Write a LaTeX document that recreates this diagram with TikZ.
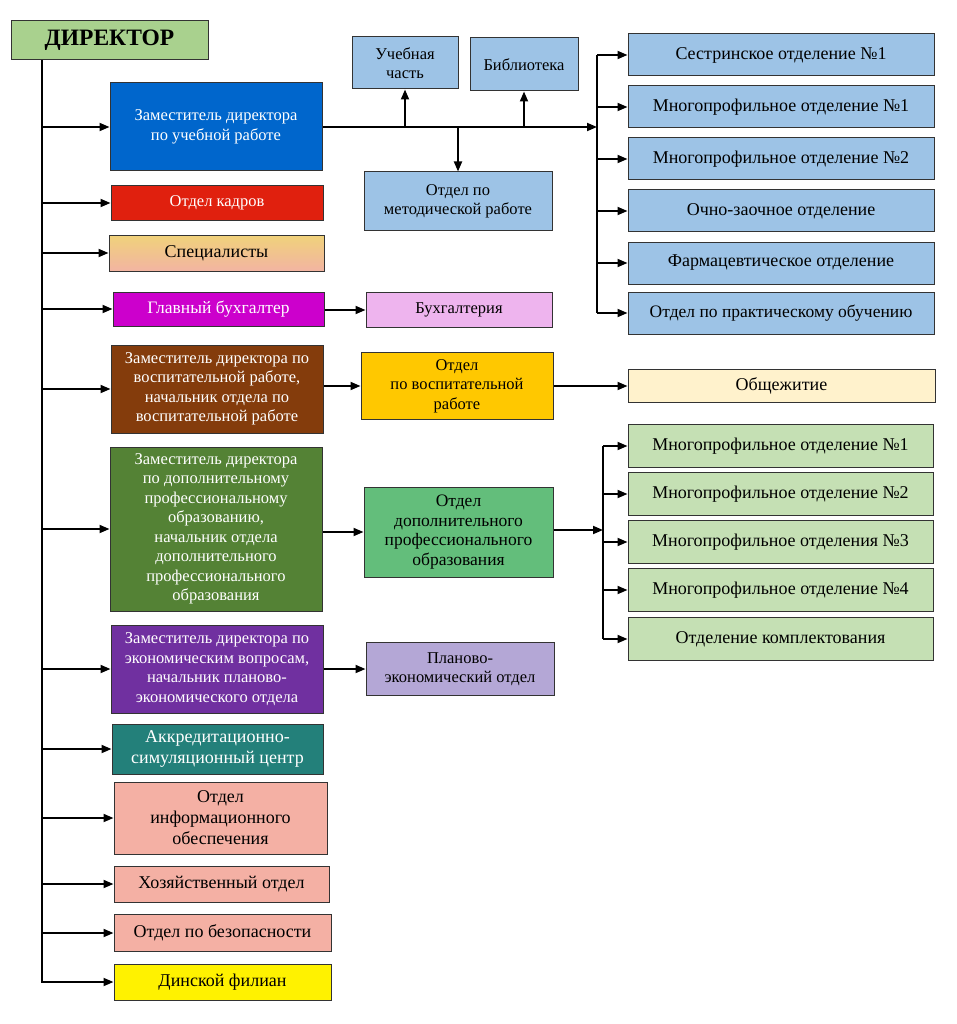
\documentclass[tikz,border=0pt]{standalone}
\usepackage{fontspec}
\setmainfont{Liberation Serif}
\usetikzlibrary{arrows.meta}

\definecolor{dirgreen}{HTML}{A9D18E}
\definecolor{zublue}{HTML}{0066CC}
\definecolor{kadred}{HTML}{E0200E}
\definecolor{spectop}{HTML}{F0D27A}
\definecolor{specbot}{HTML}{F2B4A2}
\definecolor{buhmag}{HTML}{CC00CC}
\definecolor{buhpink}{HTML}{EEB4EE}
\definecolor{vrbrown}{HTML}{843C0C}
\definecolor{vrgold}{HTML}{FFC800}
\definecolor{cream}{HTML}{FFF2CC}
\definecolor{dpgreen}{HTML}{548235}
\definecolor{odgreen}{HTML}{63BE7B}
\definecolor{ltgreen}{HTML}{C5E0B4}
\definecolor{ekpurple}{HTML}{7030A0}
\definecolor{lavend}{HTML}{B4A7D6}
\definecolor{akteal}{HTML}{23807A}
\definecolor{salmon}{HTML}{F4B0A4}
\definecolor{ltblue}{HTML}{9DC3E6}

\tikzset{
  box/.style={draw=black!80, line width=1pt, inner sep=1pt, align=center,
    font=\fontsize{16.5}{19.5}\selectfont},
  wbox/.style={box, text=white},
  big/.style={font=\fontsize{18}{21}\selectfont},
  mid/.style={font=\fontsize{17.5}{19.5}\selectfont},
  arr/.style={line width=1.8pt, -{Triangle[length=10pt,width=8pt]}},
  ln/.style={line width=1.8pt}
}

\begin{document}
\begin{tikzpicture}[x=1pt,y=-1pt]
  \useasboundingbox (0,0) rectangle (957,1024);

  \node [box,fill=dirgreen,minimum width=197pt,minimum height=39pt,
    font=\fontsize{23.5}{26}\selectfont\bfseries] (dir) at (109.5,40.5) {ДИРЕКТОР};
  \coordinate (trunk) at (42,60);

  % left column
  \node [wbox,fill=zublue,minimum width=212pt,minimum height=88pt] (zud) at (216,127)
    {Заместитель директора\\по учебной работе};
  \node [wbox,fill=kadred,minimum width=212pt,minimum height=35pt] (kadr) at (217,203)
    {Отдел кадров};
  \node [box,big,top color=spectop,bottom color=specbot,minimum width=215pt,minimum height=36pt] (spec) at (216.5,253)
    {Специалисты};
  \node [wbox,mid,fill=buhmag,minimum width=211pt,minimum height=34pt] (buh) at (218.5,309)
    {Главный бухгалтер};
  \node [wbox,fill=vrbrown,minimum width=212pt,minimum height=88pt] (zvr) at (217,389)
    {Заместитель директора по\\воспитательной работе,\\начальник отдела по\\воспитательной работе};
  \node [wbox,fill=dpgreen,minimum width=212pt,minimum height=164pt] (zdp) at (216,529)
    {Заместитель директора\\по дополнительному\\профессиональному\\образованию,\\начальник отдела\\дополнительного\\профессионального\\образования};
  \node [wbox,fill=ekpurple,minimum width=212pt,minimum height=88pt] (zek) at (217,669)
    {Заместитель директора по\\экономическим вопросам,\\начальник планово-\\экономического отдела};
  \node [wbox,big,fill=akteal,minimum width=211pt,minimum height=50pt] (akk) at (217.5,749)
    {Аккредитационно-\\симуляционный центр};
  \node [box,big,fill=salmon,minimum width=213pt,minimum height=72pt] (info) at (220.5,818)
    {Отдел\\информационного\\обеспечения};
  \node [box,big,fill=salmon,minimum width=215pt,minimum height=36pt] (hoz) at (221.5,884)
    {Хозяйственный отдел};
  \node [box,big,fill=salmon,minimum width=217pt,minimum height=37pt] (bez) at (222.5,933)
    {Отдел по безопасности};
  \node [box,big,fill=yellow,minimum width=217pt,minimum height=36pt] (din) at (222.5,982)
    {Динской филиан};

  % middle column
  \node [box,fill=ltblue,minimum width=106pt,minimum height=52pt] (uch) at (405,63)
    {Учебная\\часть};
  \node [box,fill=ltblue,minimum width=108pt,minimum height=53pt] (bib) at (524,64.5)
    {Библиотека};
  \node [box,fill=ltblue,minimum width=188pt,minimum height=59pt] (met) at (458,201.5)
    {Отдел по\\методической работе};
  \node [box,fill=buhpink,minimum width=186pt,minimum height=35pt] (buhg) at (459,310)
    {Бухгалтерия};
  \node [box,fill=vrgold,minimum width=192pt,minimum height=67pt] (ovr) at (457,386)
    {Отдел\\по воспитательной\\работе};
  \node [box,mid,fill=odgreen,minimum width=189pt,minimum height=90pt] (odp) at (458.5,532)
    {Отдел\\дополнительного\\профессионального\\образования};
  \node [box,fill=lavend,minimum width=188pt,minimum height=53pt] (pek) at (460,669)
    {Планово-\\экономический отдел};

  % right column
  \node [box,big,fill=ltblue,minimum width=306pt,minimum height=42pt] (s1) at (781,55)
    {Сестринское отделение №1};
  \node [box,big,fill=ltblue,minimum width=306pt,minimum height=42pt] (s2) at (781,107)
    {Многопрофильное отделение №1};
  \node [box,big,fill=ltblue,minimum width=306pt,minimum height=42pt] (s3) at (781,159)
    {Многопрофильное отделение №2};
  \node [box,big,fill=ltblue,minimum width=306pt,minimum height=42pt] (s4) at (781,211)
    {Очно-заочное отделение};
  \node [box,big,fill=ltblue,minimum width=306pt,minimum height=42pt] (s5) at (781,263)
    {Фармацевтическое отделение};
  \node [box,mid,fill=ltblue,minimum width=306pt,minimum height=42pt] (s6) at (781,313)
    {Отдел по практическому обучению};
  \node [box,big,fill=cream,minimum width=307pt,minimum height=33pt] (obsh) at (781.5,386)
    {Общежитие};
  \node [box,big,fill=ltgreen,minimum width=305pt,minimum height=43pt] (g1) at (780.5,446)
    {Многопрофильное отделение №1};
  \node [box,big,fill=ltgreen,minimum width=305pt,minimum height=43pt] (g2) at (780.5,494)
    {Многопрофильное отделение №2};
  \node [box,big,fill=ltgreen,minimum width=305pt,minimum height=43pt] (g3) at (780.5,542)
    {Многопрофильное отделения №3};
  \node [box,big,fill=ltgreen,minimum width=305pt,minimum height=43pt] (g4) at (780.5,590)
    {Многопрофильное отделение №4};
  \node [box,big,fill=ltgreen,minimum width=305pt,minimum height=43pt] (g5) at (780.5,639)
    {Отделение комплектования};

  % trunk
  \draw [arr] (trunk) |- (din.west);
  \foreach \b in {zud,kadr,spec,buh,zvr,zdp,zek,akk,info,hoz,bez}
    \draw [arr] (trunk |- \b.west) -- (\b.west);

  % study branch
  \coordinate (busA) at (597,127);
  \draw [arr] (zud.east) -- (busA);
  \draw [arr] (zud.east -| uch.south) -- (uch.south);
  \draw [arr] (zud.east -| bib.south) -- (bib.south);
  \draw [arr] (zud.east -| met.north) -- (met.north);
  \draw [ln] (busA |- s1.west) -- (busA |- s6.west);
  \foreach \b in {s1,s2,s3,s4,s5,s6}
    \draw [arr] (busA |- \b.west) -- (\b.west);

  \draw [arr] (buh.east |- buhg.west) -- (buhg.west);
  \draw [arr] (zvr.east |- ovr.west) -- (ovr.west);
  \draw [arr] (ovr.east) -- (obsh.west);
  \draw [arr] (zdp.east |- odp.west) -- (odp.west);
  \draw [arr] (zek.east |- pek.west) -- (pek.west);

  % extra education branch
  \coordinate (busB) at (603,530);
  \draw [arr] (odp.east |- busB) -- (busB);
  \draw [ln] (busB |- g1.west) -- (busB |- g5.west);
  \foreach \b in {g1,g2,g3,g4,g5}
    \draw [arr] (busB |- \b.west) -- (\b.west);
\end{tikzpicture}
\end{document}
